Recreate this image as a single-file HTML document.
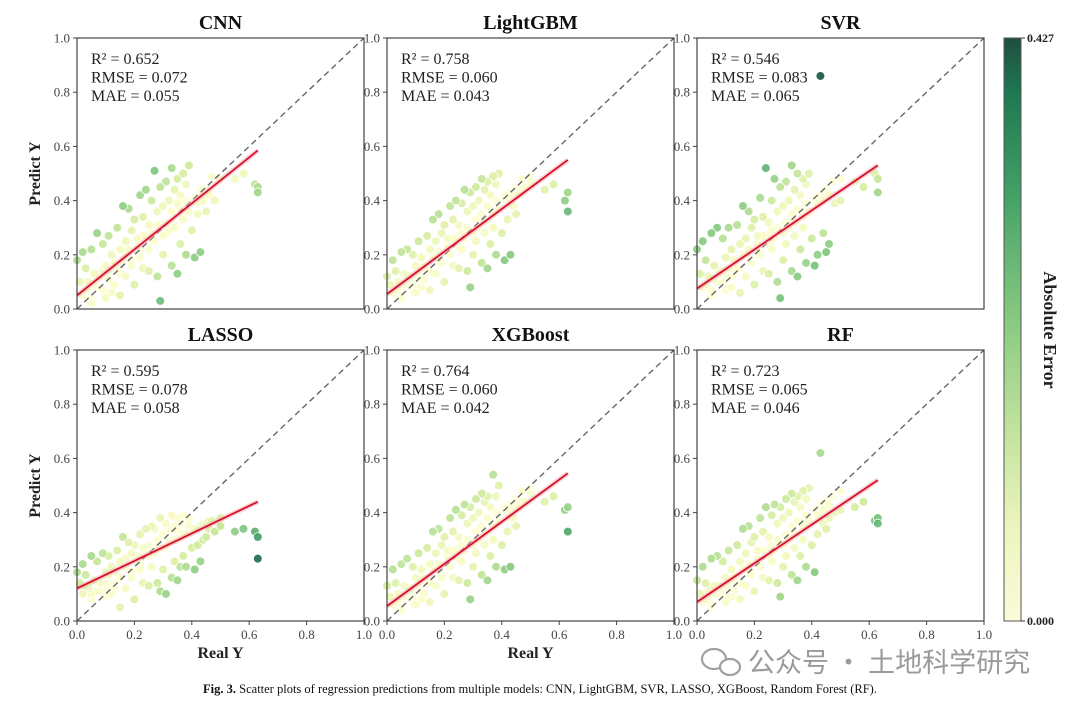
<!DOCTYPE html>
<html><head><meta charset="utf-8">
<style>
html,body{margin:0;padding:0;background:#fff;}
svg{display:block;}
text{font-family:"Liberation Serif","Noto Serif CJK SC",serif;}
</style></head>
<body>
<svg id="fig" width="1080" height="706" viewBox="0 0 1080 706" xmlns="http://www.w3.org/2000/svg">
<defs>
<linearGradient id="cbg" x1="0" y1="1" x2="0" y2="0">
<stop offset="0" stop-color="#fbfbd9"/>
<stop offset="0.15" stop-color="#eef5c0"/>
<stop offset="0.3" stop-color="#c9e6a2"/>
<stop offset="0.45" stop-color="#9dd38a"/>
<stop offset="0.6" stop-color="#6dbb78"/>
<stop offset="0.75" stop-color="#3e9d63"/>
<stop offset="0.9" stop-color="#1f7a52"/>
<stop offset="1" stop-color="#1d4f3e"/>
</linearGradient>
</defs>
<g id="panels"></g>
<g>
<rect x="1004" y="38" width="17" height="583" fill="url(#cbg)" stroke="#555" stroke-width="1"/>
<line x1="1021" y1="38" x2="1025" y2="38" stroke="#333"/>
<line x1="1021" y1="621" x2="1025" y2="621" stroke="#333"/>
<text x="1027" y="42" font-size="12" font-weight="bold" fill="#222">0.427</text>
<text x="1027" y="625" font-size="12" font-weight="bold" fill="#222">0.000</text>
<text transform="translate(1044,330) rotate(90)" text-anchor="middle" font-size="18" font-weight="bold" fill="#222">Absolute Error</text>
</g>
<g>
<rect x="695" y="642" width="360" height="36" fill="#fff"/>
<ellipse cx="714" cy="659" rx="12" ry="10" fill="none" stroke="#a0a0a0" stroke-width="2.2"/>
<ellipse cx="730" cy="667" rx="10" ry="8" fill="#fff" stroke="#a0a0a0" stroke-width="2.2"/>
<text x="748" y="672" font-size="27" fill="#9a9a9a" style="font-family:'Noto Sans CJK SC',sans-serif">公众号 · 土地科学研究</text>
</g>
<text x="540" y="693" text-anchor="middle" font-size="12.5" fill="#111"><tspan font-weight="bold">Fig. 3.</tspan> Scatter plots of regression predictions from multiple models: CNN, LightGBM, SVR, LASSO, XGBoost, Random Forest (RF).</text>
</svg>
<script>
const models = ["CNN","LightGBM","SVR","LASSO","XGBoost","RF"];
const r2Values = ["0.652","0.758","0.546","0.595","0.764","0.723"];
const rmseValues = ["0.072","0.060","0.083","0.078","0.060","0.065"];
const maeValues = ["0.055","0.043","0.065","0.058","0.042","0.046"];
const fitIntercepts = [0.05,0.055,0.075,0.12,0.055,0.07];
const fitEndValues = [0.585,0.55,0.53,0.44,0.545,0.52];
const fitEndX = 0.63;
const maxError = 0.427;
const tickLabels = ["0.0","0.2","0.4","0.6","0.8","1.0"];
const tickValues = [0,0.2,0.4,0.6,0.8,1.0];
const realY = [0.00,0.01,0.02,0.03,0.04,0.05,0.06,0.07,0.08,0.09,0.10,0.11,0.12,0.13,0.14,0.15,0.16,0.17,0.18,0.19,0.20,0.21,0.22,0.23,0.24,0.25,0.26,0.27,0.28,0.29,0.30,0.31,0.32,0.33,0.34,0.35,0.36,0.37,0.38,0.39,
0.02,0.04,0.05,0.07,0.09,0.10,0.12,0.14,0.15,0.17,0.19,0.20,0.22,0.23,0.25,0.26,0.28,0.29,0.30,0.31,0.33,0.34,0.35,0.36,0.37,0.38,0.40,0.41,0.42,0.43,0.44,0.45,0.46,0.48,0.50,0.55,0.58,0.62,0.63,0.63,
0.03,0.06,0.08,0.11,0.13,0.16,0.18,0.21,0.23,0.26,0.28,0.31,0.33,0.36,0.38,0.41,0.43,0.45,0.47,0.50,0.05,0.09,0.12,0.15,0.19,0.22,0.25,0.27,0.30,0.32,0.34,0.37,0.39,0.42,0.44,0.46,0.35,0.24,0.17,0.10];
const predCNN = [0.18,0.10,0.21,0.15,0.08,0.22,0.13,0.28,0.12,0.24,0.16,0.27,0.20,0.09,0.30,0.22,0.38,0.25,0.37,0.29,0.33,0.26,0.42,0.34,0.44,0.31,0.40,0.51,0.36,0.45,0.38,0.47,0.40,0.52,0.44,0.48,0.42,0.50,0.46,0.53,
0.05,0.10,0.02,0.08,0.14,0.04,0.06,0.15,0.05,0.12,0.18,0.09,0.22,0.15,0.14,0.25,0.12,0.03,0.20,0.28,0.16,0.30,0.13,0.24,0.33,0.20,0.29,0.19,0.35,0.21,0.40,0.36,0.42,0.40,0.48,0.48,0.50,0.46,0.43,0.45,
0.07,0.09,0.12,0.14,0.17,0.18,0.22,0.23,0.27,0.28,0.31,0.32,0.36,0.37,0.40,0.41,0.44,0.44,0.49,0.48,0.04,0.07,0.10,0.13,0.16,0.19,0.22,0.25,0.27,0.29,0.31,0.34,0.36,0.39,0.41,0.43,0.39,0.27,0.20,0.12];
const predLightGBM = [0.12,0.09,0.18,0.14,0.10,0.21,0.13,0.22,0.12,0.20,0.16,0.25,0.19,0.11,0.27,0.22,0.33,0.25,0.35,0.28,0.31,0.26,0.38,0.33,0.40,0.31,0.39,0.44,0.36,0.43,0.38,0.45,0.40,0.48,0.44,0.47,0.42,0.49,0.46,0.50,
0.06,0.08,0.04,0.09,0.12,0.06,0.08,0.14,0.07,0.13,0.17,0.10,0.20,0.16,0.15,0.22,0.14,0.08,0.20,0.25,0.17,0.28,0.15,0.24,0.30,0.20,0.28,0.18,0.33,0.20,0.38,0.35,0.42,0.45,0.47,0.44,0.46,0.40,0.36,0.43,
0.07,0.09,0.11,0.14,0.16,0.19,0.21,0.23,0.26,0.28,0.30,0.33,0.35,0.37,0.40,0.42,0.43,0.45,0.48,0.49,0.05,0.08,0.11,0.14,0.17,0.20,0.23,0.26,0.28,0.30,0.32,0.35,0.37,0.40,0.42,0.44,0.38,0.26,0.19,0.11];
const predSVR = [0.22,0.13,0.25,0.18,0.12,0.28,0.16,0.30,0.14,0.26,0.19,0.30,0.22,0.13,0.31,0.24,0.38,0.26,0.36,0.30,0.33,0.27,0.41,0.34,0.52,0.32,0.40,0.48,0.36,0.45,0.38,0.47,0.40,0.53,0.44,0.50,0.42,0.48,0.46,0.50,
0.08,0.11,0.05,0.10,0.14,0.07,0.08,0.15,0.06,0.12,0.17,0.09,0.20,0.14,0.13,0.22,0.10,0.04,0.18,0.24,0.14,0.27,0.12,0.22,0.30,0.17,0.26,0.16,0.20,0.86,0.28,0.21,0.24,0.39,0.40,0.47,0.45,0.50,0.43,0.48,
0.09,0.11,0.13,0.15,0.18,0.20,0.22,0.24,0.27,0.29,0.30,0.32,0.35,0.36,0.39,0.41,0.42,0.44,0.47,0.48,0.07,0.10,0.12,0.15,0.18,0.21,0.24,0.26,0.28,0.30,0.32,0.34,0.36,0.39,0.40,0.42,0.37,0.27,0.21,0.13];
const predLASSO = [0.18,0.14,0.21,0.17,0.12,0.24,0.15,0.22,0.14,0.25,0.18,0.24,0.20,0.12,0.26,0.22,0.31,0.23,0.29,0.25,0.28,0.24,0.32,0.27,0.34,0.28,0.35,0.34,0.30,0.38,0.32,0.36,0.34,0.39,0.35,0.38,0.36,0.39,0.37,0.38,
0.10,0.13,0.08,0.11,0.14,0.09,0.10,0.15,0.05,0.12,0.16,0.08,0.19,0.14,0.13,0.20,0.14,0.11,0.19,0.10,0.16,0.22,0.15,0.20,0.24,0.20,0.27,0.19,0.28,0.22,0.30,0.31,0.34,0.33,0.35,0.33,0.34,0.33,0.23,0.31,
0.13,0.15,0.14,0.17,0.18,0.20,0.19,0.22,0.24,0.25,0.27,0.28,0.30,0.31,0.32,0.34,0.35,0.36,0.37,0.38,0.10,0.12,0.13,0.16,0.18,0.21,0.24,0.25,0.27,0.29,0.30,0.32,0.35,0.34,0.36,0.37,0.33,0.26,0.20,0.15];
const predXGBoost = [0.13,0.09,0.19,0.14,0.10,0.21,0.13,0.23,0.12,0.20,0.16,0.25,0.19,0.10,0.27,0.21,0.33,0.25,0.34,0.28,0.31,0.26,0.38,0.33,0.41,0.31,0.39,0.43,0.36,0.42,0.38,0.45,0.40,0.47,0.44,0.46,0.42,0.54,0.46,0.50,
0.06,0.08,0.04,0.09,0.12,0.06,0.08,0.14,0.07,0.13,0.16,0.10,0.20,0.16,0.15,0.22,0.14,0.08,0.20,0.25,0.17,0.28,0.15,0.24,0.30,0.20,0.28,0.19,0.33,0.20,0.38,0.35,0.42,0.44,0.47,0.44,0.46,0.41,0.33,0.42,
0.07,0.09,0.11,0.14,0.16,0.19,0.21,0.24,0.26,0.28,0.30,0.33,0.35,0.37,0.40,0.42,0.43,0.45,0.48,0.49,0.05,0.08,0.11,0.14,0.17,0.20,0.23,0.26,0.28,0.30,0.32,0.35,0.37,0.40,0.42,0.44,0.38,0.26,0.19,0.11];
const predRF = [0.15,0.10,0.20,0.14,0.11,0.23,0.13,0.24,0.13,0.22,0.16,0.26,0.19,0.11,0.28,0.22,0.34,0.25,0.35,0.29,0.31,0.26,0.38,0.33,0.42,0.31,0.39,0.43,0.36,0.42,0.38,0.45,0.40,0.47,0.44,0.46,0.42,0.48,0.45,0.49,
0.07,0.09,0.05,0.10,0.12,0.07,0.09,0.14,0.08,0.13,0.17,0.11,0.20,0.16,0.15,0.22,0.14,0.09,0.20,0.24,0.17,0.27,0.15,0.24,0.30,0.20,0.28,0.18,0.32,0.62,0.36,0.34,0.38,0.40,0.41,0.42,0.44,0.37,0.36,0.38,
0.08,0.10,0.12,0.14,0.16,0.19,0.21,0.23,0.26,0.28,0.30,0.32,0.35,0.37,0.39,0.41,0.43,0.44,0.46,0.48,0.06,0.09,0.12,0.14,0.18,0.21,0.24,0.26,0.28,0.30,0.32,0.35,0.37,0.39,0.41,0.43,0.37,0.26,0.19,0.12];
const predictions = [predCNN,predLightGBM,predSVR,predLASSO,predXGBoost,predRF];

const NS = "http://www.w3.org/2000/svg";
const colX = [77,387,697], rowY = [38,350], PW = 287, PH = 271;
const cmap = [[0,[255,255,214]],[0.15,[245,250,190]],[0.3,[214,238,160]],[0.45,[165,216,140]],[0.6,[110,190,120]],[0.75,[62,157,99]],[0.9,[31,122,82]],[1,[20,85,60]]];
function colorFor(t){
  t=Math.max(0,Math.min(1,t));
  for(let i=1;i<cmap.length;i++){
    if(t<=cmap[i][0]){
      const a=cmap[i-1],b=cmap[i],f=(t-a[0])/(b[0]-a[0]);
      const c=a[1].map((v,k)=>Math.round(v+(b[1][k]-v)*f));
      return "rgb("+c.join(",")+")";
    }
  }
  return "rgb(20,85,60)";
}
function mk(tag,attrs,parent){const e=document.createElementNS(NS,tag);for(const k in attrs)e.setAttribute(k,attrs[k]);parent.appendChild(e);return e;}
const root=document.getElementById("panels");
models.forEach((m,i)=>{
  const x0=colX[i%3], y0=rowY[Math.floor(i/3)];
  const sx=v=>x0+v*PW, sy=v=>y0+PH-v*PH;
  const g=mk("g",{},root);
  
  
  const title=mk("text",{x:x0+PW/2,y:y0-9,"text-anchor":"middle","font-size":"20","font-weight":"bold",fill:"#111"},g);
  title.textContent=m;
  
  
  const pts=mk("g",{},g);
  
  
  const pred=predictions[i];
  const order=realY.map((r,k)=>k).sort((a,b)=>Math.abs(pred[a]-realY[a])-Math.abs(pred[b]-realY[b]));
  order.forEach(k=>{
    const err=Math.abs(pred[k]-realY[k]);
    const c=mk("circle",{cx:sx(realY[k]),cy:sy(pred[k]),r:4.4,fill:colorFor(err/maxError),"fill-opacity":"0.9",stroke:"#fff","stroke-width":"0.8"},pts);
    
    
  });
  const diag=mk("line",{x1:sx(0),y1:sy(0),x2:sx(1),y2:sy(1),stroke:"#666","stroke-width":"1.4","stroke-dasharray":"6,4"},g);
  
  
  const band=mk("line",{x1:sx(0),y1:sy(fitIntercepts[i]),x2:sx(fitEndX),y2:sy(fitEndValues[i]),stroke:"#f4a8b0","stroke-width":"5","stroke-opacity":"0.5"},g);
  
  
  const fit=mk("line",{x1:sx(0),y1:sy(fitIntercepts[i]),x2:sx(fitEndX),y2:sy(fitEndValues[i]),stroke:"#d6102a","stroke-width":"1.8"},g);
  
  
  const frame=mk("rect",{x:x0,y:y0,width:PW,height:PH,fill:"none",stroke:"#444","stroke-width":"1.2"},g);
  
  
  tickValues.forEach((tv,k)=>{
    mk("line",{x1:x0-4,y1:sy(tv),x2:x0,y2:sy(tv),stroke:"#444"},g);
    const yl=mk("text",{x:x0-7,y:sy(tv)+4.5,"text-anchor":"end","font-size":"13",fill:"#444"},g);
    yl.textContent=tickLabels[k];
    
    
    if(i>=3){
      mk("line",{x1:sx(tv),y1:y0+PH,x2:sx(tv),y2:y0+PH+4,stroke:"#444"},g);
      const xl=mk("text",{x:sx(tv),y:y0+PH+18,"text-anchor":"middle","font-size":"13",fill:"#444"},g);
      xl.textContent=tickLabels[k];
      
      
    }
  });
  if(i%3===0){
    const yt=mk("text",{transform:"translate("+(x0-37)+","+(y0+PH/2)+") rotate(-90)","text-anchor":"middle","font-size":"16","font-weight":"bold",fill:"#222"},g);
    yt.textContent="Predict Y";
    
    
  }
  if(i>=3 && i<5){
    const xt=mk("text",{x:x0+PW/2,y:y0+PH+37,"text-anchor":"middle","font-size":"16","font-weight":"bold",fill:"#222"},g);
    xt.textContent="Real Y";
    
    
  }
  const lines=["R\u00b2 = "+r2Values[i],"RMSE = "+rmseValues[i],"MAE = "+maeValues[i]];
  lines.forEach((s,k)=>{
    const t=mk("text",{x:x0+14,y:y0+26+k*18.5,"font-size":"16",fill:"#222"},g);
    t.textContent=s;
    
    
  });
});
</script>
</body></html>
